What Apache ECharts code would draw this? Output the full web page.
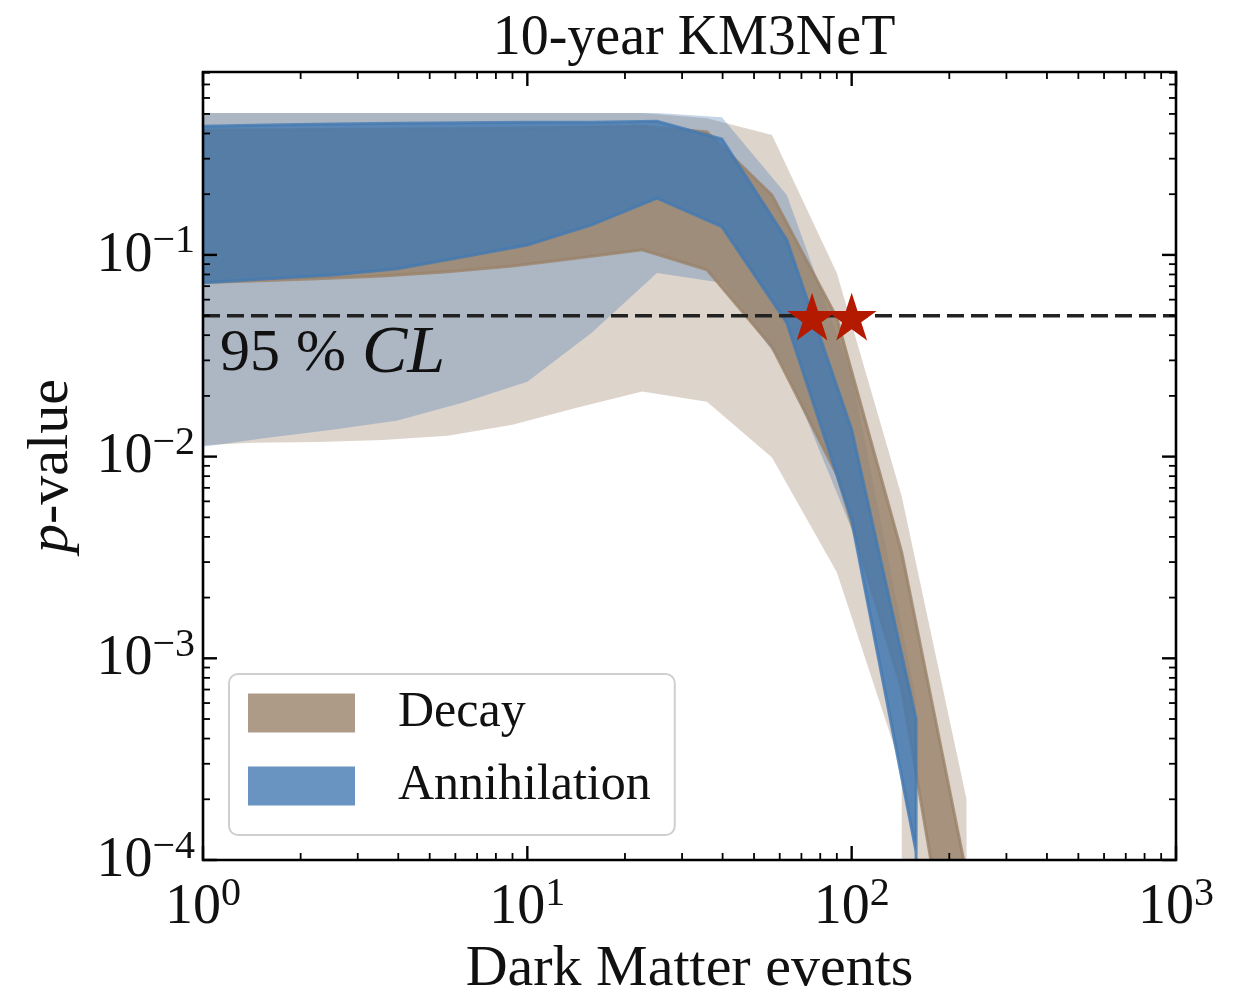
<!DOCTYPE html>
<html><head><meta charset="utf-8">
<script src="https://cdn.jsdelivr.net/npm/echarts@6/dist/echarts.min.js"></script>
<style>html,body{margin:0;padding:0;background:#fff}#c{width:1242px;height:992px}</style>
</head><body><div id="c"></div>
<script>
// ---------------- data ----------------
const decayX      = [0.9, 1.42, 2.26, 3.58, 5.68, 9.0, 14.3, 22.6, 35.8, 56.8, 90, 142.7, 226];
const decay95Lo   = [0.0113, 0.0117, 0.0118, 0.0121, 0.0127, 0.0144, 0.0175, 0.0210, 0.0187, 0.00989, 0.00267, 0.000282, null];
const decay95Hi   = [0.505, 0.505, 0.505, 0.505, 0.505, 0.505, 0.505, 0.505, 0.476, 0.393, 0.0814, 0.00634, 0.000200];
const decay68Lo   = [0.0727, 0.0743, 0.0761, 0.0787, 0.0824, 0.0882, 0.0966, 0.106, 0.0843, 0.0350, 0.00815, 0.000703, 0.0000091];
const decay68Hi   = [0.416, 0.416, 0.418, 0.420, 0.422, 0.425, 0.430, 0.435, 0.407, 0.198, 0.0488, 0.00335, 0.000085];

const annX        = [1, 1.58, 2.51, 3.98, 6.31, 10, 15.8, 25.1, 39.8, 63.1, 100, 158];
const ann95Lo     = [0.0112, 0.0124, 0.0136, 0.0151, 0.0185, 0.0235, 0.0411, 0.0814, 0.0727, 0.0267, 0.00436, 0.000100];
const ann95Hi     = [0.505, 0.505, 0.505, 0.505, 0.505, 0.505, 0.505, 0.505, 0.482, 0.198, 0.0255, 0.00063];
const ann68Lo     = [0.0727, 0.0761, 0.0796, 0.0853, 0.0977, 0.112, 0.141, 0.191, 0.138, 0.0461, 0.00488, 0.000111];
const ann68Hi     = [0.435, 0.441, 0.446, 0.450, 0.452, 0.455, 0.455, 0.460, 0.375, 0.1186, 0.0136, 0.000499];

const clLevel     = 0.05;
const starX       = [75.5, 100];
const starY       = [0.05, 0.05];

const legendNames = ['Decay', 'Annihilation'];

// ---------------- styling ----------------
const FONT = '"Liberation Serif", "DejaVu Serif", serif';
const FLOOR = 1e-6;
const X_MIN = 1, X_MAX = 1000, Y_MIN = 1e-4, Y_MAX = 0.807;
const DECAY_RGB = '154,130,105';
const ANN_RGB = '68,121,178';

function bandPoints(xs, lo, hi) {
  const pts = [];
  let ih = -1, il = -1;
  for (let i = 0; i < xs.length; i++) if (hi[i] != null) { pts.push([xs[i], hi[i]]); ih = i; }
  for (let i = 0; i < xs.length; i++) if (lo[i] != null) il = i;
  pts.push([xs[ih], FLOOR]);
  pts.push([xs[il], FLOOR]);
  for (let i = il; i >= 0; i--) if (lo[i] != null) pts.push([xs[i], lo[i]]);
  return pts;
}

function band(name, xs, lo, hi, rgb, alpha, strokeW) {
  const pts = bandPoints(xs, lo, hi);
  return {
    type: 'custom', name: name, coordinateSystem: 'cartesian2d', clip: true,
    silent: true, animation: false,
    itemStyle: { color: 'rgba(' + rgb + ',' + alpha + ')' },
    data: [[xs[1], hi[1]]],
    renderItem: function (params, api) {
      return {
        type: 'polygon',
        shape: { points: pts.map(p => api.coord(p)) },
        style: {
          fill: 'rgba(' + rgb + ',' + alpha + ')',
          stroke: strokeW ? 'rgba(' + rgb + ',' + alpha + ')' : null,
          lineWidth: strokeW || 0,
          lineJoin: 'miter'
        }
      };
    }
  };
}

function starPath() {
  let d = '';
  for (let i = 0; i < 10; i++) {
    const r = i % 2 === 0 ? 1 : 0.381966;
    const a = -Math.PI / 2 + i * Math.PI / 5;
    d += (i === 0 ? 'M' : 'L') + (r * Math.cos(a)).toFixed(4) + ' ' + (r * Math.sin(a)).toFixed(4) + ' ';
  }
  return 'path://' + d + 'Z';
}

function powLabel(v) {
  const l = Math.log10(v);
  const e = Math.round(l);
  if (Math.abs(l - e) > 1e-6) return '';
  return '{b|10}{s|' + String(e).replace('-', '\u2212') + '}';
}
const labelRich = {
  b: { fontFamily: FONT, fontSize: 56, color: '#111', lineHeight: 58, verticalAlign: 'bottom' },
  s: { fontFamily: FONT, fontSize: 40, color: '#111', lineHeight: 42, verticalAlign: 'bottom', padding: [0, 0, 22, 0] }
};

// ticks + frame drawn through the axes
const tickSeries = {
  type: 'custom', coordinateSystem: 'cartesian2d', clip: false, silent: true, animation: false, z: 20,
  data: [[1, 0.01]],
  renderItem: function (params, api) {
    const ch = [];
    const line = (x1, y1, x2, y2, w) => ch.push({ type: 'line', shape: { x1, y1, x2, y2 }, style: { stroke: '#000', lineWidth: w } });
    const MAJ = 14, MIN = 7;
    const pTL = api.coord([X_MIN, Y_MAX]), pBR = api.coord([X_MAX, Y_MIN]);
    const L = pTL[0], T = pTL[1], R = pBR[0], B = pBR[1];
    for (let d = 0; d <= 3; d++) {
      for (let k = 1; k <= 9; k++) {
        const v = k * Math.pow(10, d);
        if (v > X_MAX * 1.0001) break;
        const x = api.coord([v, Y_MIN])[0];
        const len = k === 1 ? MAJ : MIN, w = k === 1 ? 2.4 : 1.8;
        line(x, B, x, B - len, w); line(x, T, x, T + len, w);
      }
    }
    for (let d = -4; d <= 0; d++) {
      for (let k = 1; k <= 9; k++) {
        const v = k * Math.pow(10, d);
        if (v > Y_MAX) break;
        const y = api.coord([X_MIN, v])[1];
        const len = k === 1 ? MAJ : MIN, w = k === 1 ? 2.4 : 1.8;
        line(L, y, L + len, y, w); line(R, y, R - len, y, w);
      }
    }
    ch.push({ type: 'rect', shape: { x: L, y: T, width: R - L, height: B - T }, style: { fill: null, stroke: '#000', lineWidth: 2.6 } });
    return { type: 'group', children: ch };
  }
};

const chart = echarts.init(document.getElementById('c'), null, { renderer: 'canvas' });
chart.setOption({
  animation: false,
  backgroundColor: '#fff',
  title: {
    text: '10-year KM3NeT', left: 689, top: 6, textAlign: 'center',
    textStyle: { fontFamily: FONT, fontSize: 56, fontWeight: 'normal', color: '#111' }
  },
  grid: { left: 203, top: 72, right: 66, bottom: 132, containLabel: false, outerBoundsMode: 'none', show: false },
  legend: {
    orient: 'vertical', left: 229, top: 674,
    itemWidth: 107, itemHeight: 39, itemGap: 23,
    padding: [14, 24, 24, 19],
    borderColor: '#cfcfcf', borderWidth: 2, borderRadius: 9, backgroundColor: '#fff',
    selectedMode: false,
    data: [
      { name: legendNames[0], icon: 'rect', itemStyle: { color: 'rgba(' + DECAY_RGB + ',0.8)', borderWidth: 0 } },
      { name: legendNames[1], icon: 'rect', itemStyle: { color: 'rgba(' + ANN_RGB + ',0.8)', borderWidth: 0 } }
    ],
    textStyle: { fontFamily: FONT, fontSize: 50, color: '#111', padding: [0, 0, 0, 38] }
  },
  xAxis: {
    type: 'log', logBase: 10, min: X_MIN, max: X_MAX,
    name: 'Dark Matter events', nameLocation: 'middle', nameGap: 81,
    nameTextStyle: { fontFamily: FONT, fontSize: 58, color: '#111' },
    axisLine: { show: false }, axisTick: { show: false }, splitLine: { show: false }, minorTick: { show: false },
    axisLabel: { margin: 18, formatter: powLabel, rich: labelRich, showMinLabel: true, showMaxLabel: true }
  },
  yAxis: {
    type: 'log', logBase: 10, min: Y_MIN, max: Y_MAX,
    name: '{i|p}-value', nameLocation: 'middle', nameGap: 122, nameRotate: 90,
    nameTextStyle: { fontFamily: FONT, fontSize: 58, color: '#111',
      rich: { i: { fontFamily: FONT, fontSize: 58, fontStyle: 'italic', color: '#111' } } },
    axisLine: { show: false }, axisTick: { show: false }, splitLine: { show: false }, minorTick: { show: false },
    axisLabel: { margin: 8, formatter: powLabel, rich: labelRich }
  },
  series: [
    band('Decay 95%', decayX, decay95Lo, decay95Hi, DECAY_RGB, 0.34, 0),
    band('Annihilation 95%', annX, ann95Lo, ann95Hi, ANN_RGB, 0.31, 0),
    band(legendNames[0], decayX, decay68Lo, decay68Hi, DECAY_RGB, 0.8, 3),
    band(legendNames[1], annX, ann68Lo, ann68Hi, ANN_RGB, 0.8, 3),
    {
      type: 'line', name: '95% CL', silent: true, symbol: 'none', animation: false, z: 5,
      data: [[X_MIN, clLevel], [X_MAX, clLevel]],
      lineStyle: { color: '#222', width: 3.5, type: [17, 7], opacity: 1 }
    },
    {
      type: 'scatter', name: 'stars', silent: true, animation: false, z: 6,
      symbol: starPath(), symbolSize: 50, symbolKeepAspect: true, symbolOffset: [0, 1],
      itemStyle: { color: '#b41a00', opacity: 1 },
      data: starX.map((x, i) => [x, starY[i]])
    },
    tickSeries
  ],
  graphic: [{
    type: 'text', left: 220, top: 320, z: 10,
    style: {
      text: '{a|95}{g|}{a|%}{g|}{c|CL}',
      rich: {
        a: { fontFamily: FONT, fontSize: 60, fill: '#111' },
        g: { width: 16 },
        c: { fontFamily: FONT, fontSize: 68, fontStyle: 'italic', fill: '#111' }
      }
    }
  }]
});
</script></body></html>
